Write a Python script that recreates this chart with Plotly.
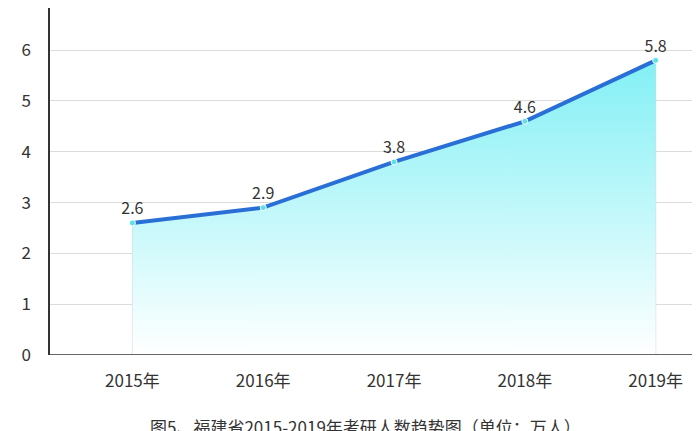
import plotly.graph_objects as go

years = ["2015年", "2016年", "2017年", "2018年", "2019年"]
values = [2.6, 2.9, 3.8, 4.6, 5.8]
labels = ["2.6", "2.9", "3.8", "4.6", "5.8"]
idx = list(range(len(years)))

fig = go.Figure()

# drop lines from each point
for i, v in zip(idx, values):
    fig.add_trace(go.Scatter(x=[i, i], y=[0, v], mode="lines",
                             line=dict(color="#d0d0d0", width=1),
                             hoverinfo="skip", showlegend=False))

fig.add_trace(go.Scatter(
    x=idx, y=values, mode="lines+markers+text",
    text=labels, textposition="top center",
    textfont=dict(size=16, color="#333"),
    line=dict(color="#2a6fd6", width=4),
    marker=dict(size=6, color="#5ee0ea", line=dict(color="white", width=1)),
    fill="tozeroy",
    fillgradient=dict(type="vertical",
                      colorscale=[[0, "rgba(255,255,255,1)"], [1, "rgba(130,240,245,1)"]]),
    showlegend=False,
))

fig.update_layout(
    width=700, height=431,
    margin=dict(l=42, r=0, t=0, b=84),
    plot_bgcolor="white", paper_bgcolor="white",
    font=dict(family="Noto Sans CJK SC", size=17, color="#333"),
    xaxis=dict(range=[-0.63, 4.4], tickvals=idx, ticktext=years, automargin=False,
               showgrid=False, zeroline=False, showline=False, ticklen=0,
               ticklabelstandoff=14),
    yaxis=dict(range=[0, 6.83], dtick=1, gridcolor="#dcdcdc", automargin=False,
               showline=True, linecolor="#333", linewidth=1.5,
               zeroline=False, ticks="", ticklabelstandoff=14),
    annotations=[dict(text="图5、福建省2015-2019年考研人数趋势图（单位：万人）",
                      x=0.48, xref="paper", y=-0.205, yref="paper", yanchor="middle",
                      showarrow=False, font=dict(size=17, color="#333"))],
    shapes=[dict(type="line", xref="paper", yref="y", x0=0, x1=1, y0=0, y1=0,
                 line=dict(color="#333", width=1.5))],
)

fig.write_html("out.html")
